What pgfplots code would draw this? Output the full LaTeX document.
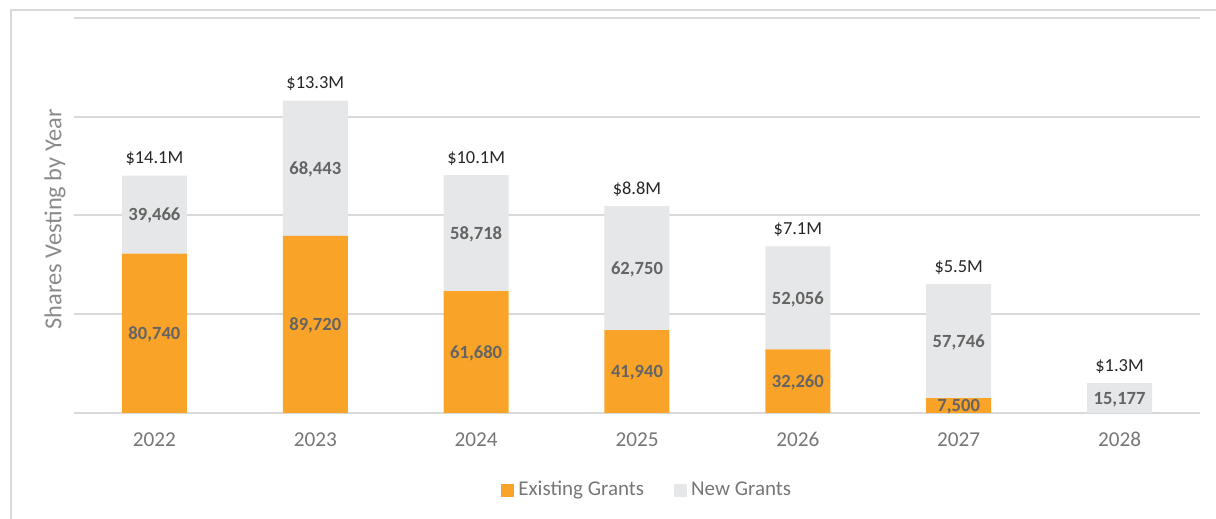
\documentclass[border=0pt]{standalone}
\usepackage{pgfplots}
\pgfplotsset{compat=1.18}
\usepackage{fontspec}
\setmainfont{Carlito}
\definecolor{existc}{HTML}{F9A428}
\definecolor{newc}{HTML}{E6E7E8}
\definecolor{gridc}{HTML}{D9D9D9}
\definecolor{tickc}{HTML}{767676}
\definecolor{innerc}{HTML}{646464}
\definecolor{topc}{HTML}{262626}
\begin{document}
\begin{tikzpicture}
\path[use as bounding box] (0,0) rectangle (608pt,259.5pt);
\draw[gridc, line width=0.9pt] (5.5pt,-2pt) -- (5.5pt,254.5pt) -- (612pt,254.5pt);
\pgfplotsset{
  commonax/.style={
    at={(37pt,53pt)}, anchor=south west,
    scale only axis, width=563pt, height=197.5pt,
    xmin=-0.5, xmax=6.5, ymin=0, ymax=200000,
    clip=false, scaled y ticks=false,
  }
}
\begin{axis}[commonax,
  ybar stacked, bar width=32.5pt,
  axis line style={draw=none},
  major tick style={draw=none},
  ytick={0,50000,100000,150000,200000},
  yticklabels={},
  ymajorgrids,
  grid style={gridc, line width=1pt},
  xtick={0,1,2,3,4,5,6},
  xticklabels={2022,2023,2024,2025,2026,2027,2028},
  xticklabel style={font=\fontsize{10.6}{12}\selectfont, text=tickc, anchor=base, yshift=-17pt},
  ylabel={Shares Vesting by Year},
  every axis y label/.style={at={(axis description cs:-0.0169,0.49)}, rotate=90, anchor=center, font=\fontsize{12.2}{14}\selectfont, text=tickc!85},
  legend columns=2,
  legend style={draw=none, fill=none, at={(0.51,-0.195)}, anchor=center,
    font=\fontsize{10.5}{12}\selectfont, text=tickc,
    /tikz/every even column/.append style={column sep=13pt}},
  legend image code/.code={\fill[#1] (0pt,-3.25pt) rectangle (6.5pt,3.25pt);},
]
\addplot[fill=existc, draw=none] coordinates {(0,80740) (1,89720) (2,61680) (3,41940) (4,32260) (5,7500) (6,0)};
\addplot[fill=newc, draw=none] coordinates {(0,39466) (1,68443) (2,58718) (3,62750) (4,52056) (5,57746) (6,15177)};
\legend{Existing Grants, New Grants}
\end{axis}
\begin{axis}[commonax, hide axis]
\addplot[draw=none, mark=none, nodes near coords, point meta=explicit symbolic,
  nodes near coords align=center,
  every node near coord/.append style={anchor=base, yshift=-3.1pt, font=\bfseries\fontsize{9.3}{11}\selectfont, text=innerc}]
  table[meta=lab] {
x y lab
0 40370 80,740
1 44860 89,720
2 30840 61,680
3 20970 41,940
4 16130 32,260
5 3750 7,500
};
\addplot[draw=none, mark=none, nodes near coords, point meta=explicit symbolic,
  nodes near coords align=center,
  every node near coord/.append style={anchor=base, yshift=-3.1pt, font=\bfseries\fontsize{9.3}{11}\selectfont, text=innerc}]
  table[meta=lab] {
x y lab
0 100473 39,466
1 123941.5 68,443
2 91039 58,718
3 73315 62,750
4 58288 52,056
5 36373 57,746
6 7588.5 15,177
};
\addplot[draw=none, mark=none, nodes near coords, point meta=explicit symbolic,
  nodes near coords align=center,
  every node near coord/.append style={anchor=base, yshift=6pt, font=\fontsize{9.2}{11}\selectfont, text=topc}]
  table[meta=lab] {
x y lab
0 120206 \$14.1M
1 158163 \$13.3M
2 120398 \$10.1M
3 104690 \$8.8M
4 84316 \$7.1M
5 65246 \$5.5M
6 15177 \$1.3M
};
\end{axis}
\end{tikzpicture}
\end{document}
